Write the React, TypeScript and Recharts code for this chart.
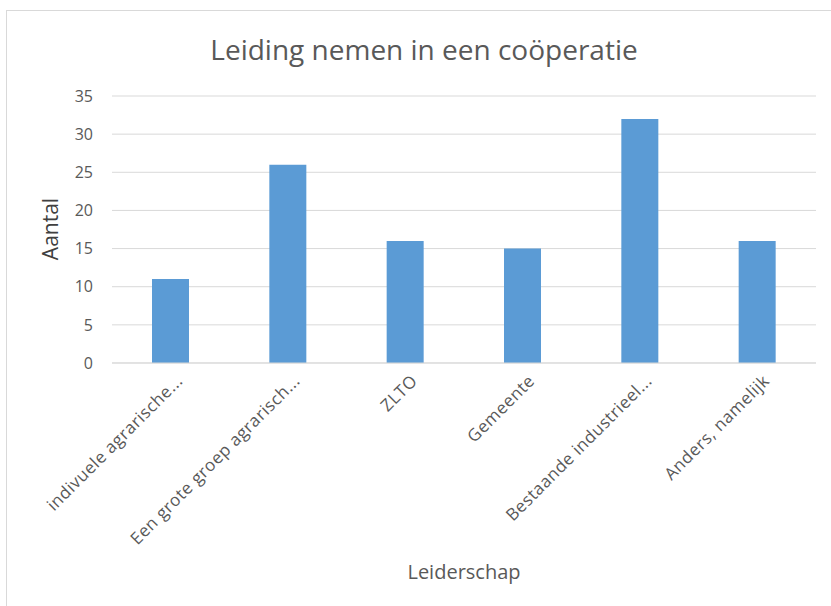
import React from "react";
import { Bar, BarChart, CartesianGrid, XAxis, YAxis } from "recharts";

const categories = [
  "indivuele agrarische...",
  "Een grote groep agrarisch...",
  "ZLTO",
  "Gemeente",
  "Bestaande industrieel...",
  "Anders, namelijk",
];
const aantal = [11, 26, 16, 15, 32, 16];
const yTicks = [0, 5, 10, 15, 20, 25, 30, 35];

const data = categories.map((name, i) => ({ name, aantal: aantal[i] }));

const font = "'Open Sans', sans-serif";
const textColor = "#595959";

function AngledTick(props: any) {
  const { x, y, payload } = props;
  return (
    <g transform={`translate(${x + 4},${y + 2})`}>
      <text
        transform="rotate(-45)"
        textAnchor="end"
        x={0}
        y={0}
        dy="0.75em"
        fill={textColor}
        fontSize={17}
        letterSpacing={0.5}
        fontFamily={font}
      >
        {payload.value}
      </text>
    </g>
  );
}

export default function App() {
  return (
    <div
      style={{
        position: "absolute",
        left: 0,
        top: 0,
        width: 831,
        height: 606,
        overflow: "hidden",
        background: "#FFFFFF",
        fontFamily: font,
      }}
    >
      <div
        style={{
          position: "absolute",
          left: 6,
          top: 10,
          width: 840,
          height: 620,
          border: "1px solid #D9D9D9",
        }}
      />
      <div
        style={{
          position: "absolute",
          left: 0,
          top: 30,
          width: 848,
          textAlign: "center",
          fontSize: 28,
          lineHeight: "38px",
          color: textColor,
        }}
      >
        Leiding nemen in een coöperatie
      </div>
      <div
        style={{
          position: "absolute",
          left: 50,
          top: 229,
          transform: "translate(-50%, -50%) rotate(-90deg)",
          fontSize: 21,
          lineHeight: "26px",
          color: "#404040",
          whiteSpace: "nowrap",
        }}
      >
        Aantal
      </div>
      <div
        style={{
          position: "absolute",
          left: 464,
          top: 572,
          transform: "translate(-50%, -50%)",
          fontSize: 20,
          lineHeight: "26px",
          color: textColor,
          whiteSpace: "nowrap",
        }}
      >
        Leiderschap
      </div>
      <div style={{ position: "absolute", left: 0, top: 0 }}>
        <BarChart
          width={831}
          height={606}
          data={data}
          margin={{ top: 96, right: 15, left: 62, bottom: 0 }}
        >
          <CartesianGrid vertical={false} stroke="#D9D9D9" />
          <XAxis
            dataKey="name"
            interval={0}
            height={243}
            axisLine={{ stroke: "#D9D9D9" }}
            tickLine={false}
            tick={<AngledTick />}
          />
          <YAxis
            width={50}
            domain={[0, 35]}
            ticks={yTicks}
            axisLine={false}
            tickLine={false}
            tickMargin={13}
            tick={{ fill: textColor, fontSize: 16, fontFamily: font }}
          />
          <Bar dataKey="aantal" fill="#5B9BD5" barSize={37} isAnimationActive={false} />
        </BarChart>
      </div>
    </div>
  );
}
